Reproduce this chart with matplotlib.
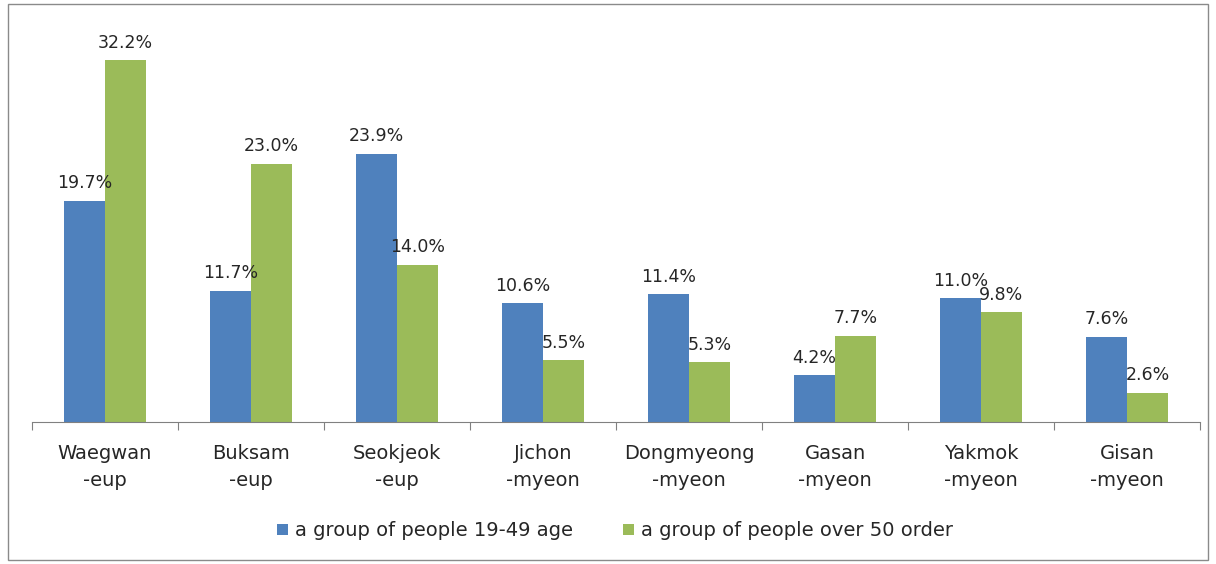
import matplotlib
matplotlib.use("Agg")
import matplotlib.pyplot as plt
from matplotlib.patches import Rectangle
import numpy as np

categories = ["Waegwan\n-eup", "Buksam\n-eup", "Seokjeok\n-eup", "Jichon\n-myeon",
              "Dongmyeong\n-myeon", "Gasan\n-myeon", "Yakmok\n-myeon", "Gisan\n-myeon"]
young = [19.7, 11.7, 23.9, 10.6, 11.4, 4.2, 11.0, 7.6]
older = [32.2, 23.0, 14.0, 5.5, 5.3, 7.7, 9.8, 2.6]
series_names = ["a group of people 19-49 age", "a group of people over 50 order"]

plt.rcParams['font.family'] = ['DejaVu Sans']

fig = plt.figure(figsize=(12.16, 5.64), dpi=100)
ax = fig.add_axes([32/1216, 1-422/564, (1200-32)/1216, (422-29)/564])

x = np.arange(len(categories))
w = 0.28
b1 = ax.bar(x - w/2, young, w, color='#4F81BD', label=series_names[0])
b2 = ax.bar(x + w/2, older, w, color='#9BBB59', label=series_names[1])

for bars, vals in ((b1, young), (b2, older)):
    for r, v in zip(bars, vals):
        ax.annotate(f"{v:.1f}%", (r.get_x() + r.get_width()/2, v),
                    xytext=(0, 6), textcoords='offset points',
                    ha='center', va='bottom', fontsize=12.5, color='#262626')

ax.set_xlim(-0.5, len(categories) - 0.5)
ax.set_ylim(0, 35)
for s in ['top', 'right', 'left']:
    ax.spines[s].set_visible(False)
ax.spines['bottom'].set_color('#808080')
ax.set_yticks([])
ax.set_xticks(np.arange(len(categories) + 1) - 0.5)
ax.set_xticklabels([])
ax.tick_params(axis='x', length=6, color='#808080', direction='out')
ax.set_xticks(x, minor=True)
ax.set_xticklabels(categories, minor=True, fontsize=14, color='#262626', linespacing=1.5)
ax.tick_params(axis='x', which='minor', length=0, pad=16)

fig.legend(handles=[b1, b2], labels=series_names, loc='center',
           bbox_to_anchor=(615/1216, 1-531/564), ncol=2, frameon=False,
           fontsize=14, handlelength=0.55, handleheight=0.55, handletextpad=0.35,
           columnspacing=2.6, labelcolor='#262626')

fig.patches.append(Rectangle((8/1216, 1-560/564), 1200/1216, 556/564,
                             transform=fig.transFigure, fill=False,
                             edgecolor='#8a8a8a', linewidth=1))

fig.savefig("out.png", dpi=100)
